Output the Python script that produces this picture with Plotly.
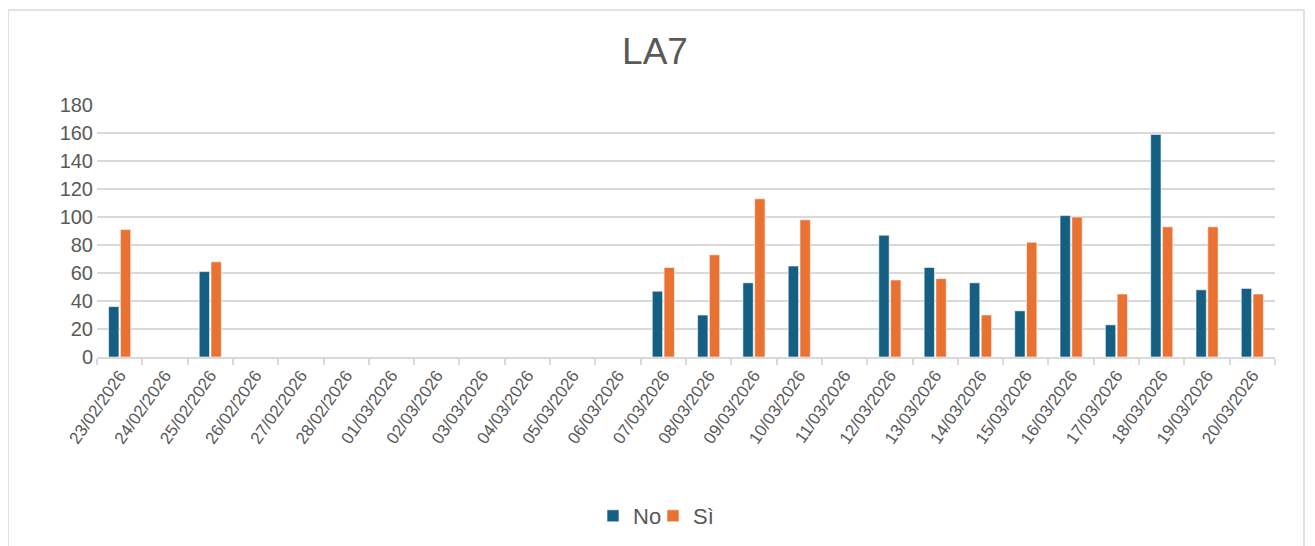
import plotly.graph_objects as go

dates = ["23/02/2026", "24/02/2026", "25/02/2026", "26/02/2026", "27/02/2026",
         "28/02/2026", "01/03/2026", "02/03/2026", "03/03/2026", "04/03/2026",
         "05/03/2026", "06/03/2026", "07/03/2026", "08/03/2026", "09/03/2026",
         "10/03/2026", "11/03/2026", "12/03/2026", "13/03/2026", "14/03/2026",
         "15/03/2026", "16/03/2026", "17/03/2026", "18/03/2026", "19/03/2026",
         "20/03/2026"]
no_vals = [36, None, 61, None, None, None, None, None, None, None, None, None,
           47, 30, 53, 65, None, 87, 64, 53, 33, 101, 23, 159, 48, 49]
si_vals = [91, None, 68, None, None, None, None, None, None, None, None, None,
           64, 73, 113, 98, None, 55, 56, 30, 82, 100, 45, 93, 93, 45]
y_ticks = [0, 20, 40, 60, 80, 100, 120, 140, 160, 180]

TEXT = "#595959"
GRID = "#d9d9d9"
FONT = "Liberation Sans, Arial, sans-serif"

# page body adds an 8px offset; positions below are target pixels minus 8
OFF = 8
W, H = 1315, 546
L, R, T, B = 97 - OFF, 1275 - OFF, 105 - OFF, 357 - OFF
pw, ph = R - L, B - T

fig = go.Figure()
fig.add_trace(go.Bar(x=dates, y=no_vals, name="No", marker_color="#156082",
                     marker_line_color="white", marker_line_width=0.6,
                     legend="legend"))
fig.add_trace(go.Bar(x=dates, y=si_vals, name="Sì", marker_color="#E97132",
                     marker_line_color="white", marker_line_width=0.6,
                     legend="legend2"))

leg_common = dict(orientation="h", xref="container", yref="container",
                  y=1 - (516 - OFF) / H, yanchor="middle", xanchor="left",
                  font=dict(size=22, color=TEXT, family=FONT), itemwidth=30,
                  bgcolor="rgba(0,0,0,0)")

fig.update_layout(
    width=W, height=H,
    margin=dict(l=L, r=W - R, t=T, b=H - B),
    paper_bgcolor="white", plot_bgcolor="white",
    font=dict(family=FONT, color=TEXT),
    title=dict(text="LA7", x=(655 - OFF) / W, xanchor="center",
               y=1 - (51 - OFF) / H, yanchor="middle",
               font=dict(size=37, color=TEXT, family=FONT)),
    barmode="group", bargap=0.48, bargroupgap=0.12,
    showlegend=True,
    legend=dict(leg_common, x=(593 - OFF) / W),
    legend2=dict(leg_common, x=(653 - OFF) / W),
    xaxis=dict(type="category", tickangle=-55, tickfont=dict(size=17, color=TEXT),
               showgrid=False, showline=True, linecolor=GRID, linewidth=1.5,
               ticks="outside", tickson="boundaries", ticklen=6, tickcolor=GRID,
               tickwidth=1.5),
    yaxis=dict(range=[0, 180], tickvals=y_ticks, tickfont=dict(size=20, color=TEXT),
               showgrid=True, gridcolor=GRID, gridwidth=1.5, zeroline=False,
               showline=False, ticks="", ticklabelstandoff=3),
    shapes=[dict(type="rect", xref="paper", yref="paper",
                 x0=(8 - OFF - L) / pw, x1=(1304 - OFF - L) / pw,
                 y0=(B - 560) / ph, y1=(B - (10 - OFF)) / ph,
                 line=dict(color=GRID, width=1.5), fillcolor="rgba(0,0,0,0)",
                 layer="below")],
)

fig.write_html("out.html")
